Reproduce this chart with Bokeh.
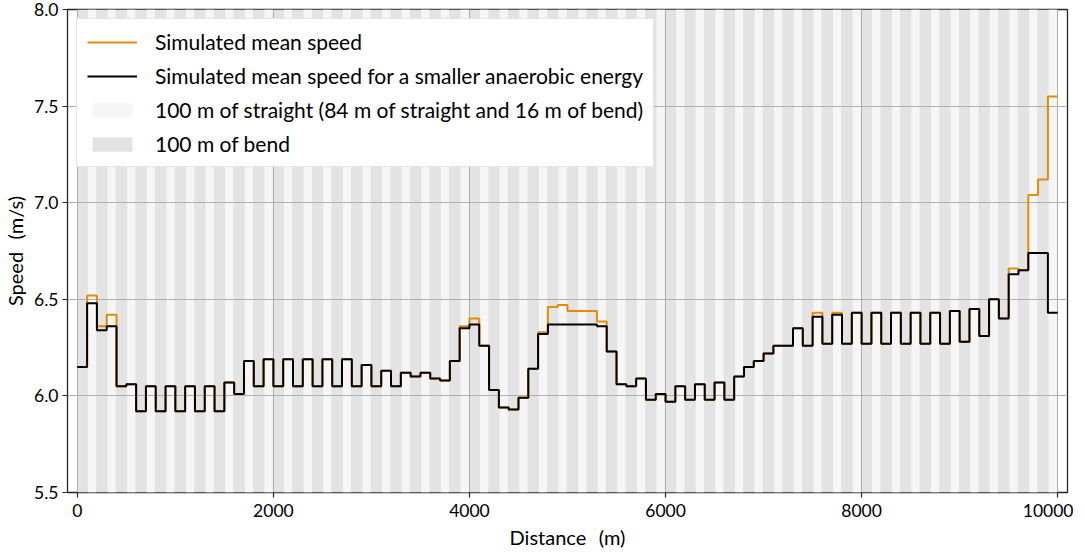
from bokeh.plotting import figure
from bokeh.models import FixedTicker, NumeralTickFormatter, Range1d, Legend, LegendItem
from bokeh.embed import file_html
from bokeh.resources import INLINE

# ---------------- data ----------------
segment_length = 100  # m
# mean speed per 100 m segment (m/s)
speed_small_anaerobic = [
    6.15, 6.48, 6.34, 6.36, 6.05, 6.06, 5.92, 6.05, 5.92, 6.05,
    5.92, 6.05, 5.92, 6.05, 5.92, 6.07, 6.01, 6.18, 6.05, 6.19,
    6.05, 6.19, 6.05, 6.19, 6.05, 6.19, 6.05, 6.19, 6.05, 6.16,
    6.05, 6.13, 6.05, 6.12, 6.10, 6.12, 6.09, 6.08, 6.18, 6.35,
    6.37, 6.26, 6.03, 5.94, 5.93, 5.99, 6.14, 6.32, 6.37, 6.37,
    6.37, 6.37, 6.37, 6.36, 6.23, 6.06, 6.05, 6.09, 5.98, 6.01,
    5.97, 6.05, 5.98, 6.06, 5.98, 6.07, 5.98, 6.10, 6.15, 6.18,
    6.22, 6.26, 6.26, 6.35, 6.26, 6.41, 6.27, 6.42, 6.27, 6.43,
    6.27, 6.43, 6.27, 6.43, 6.27, 6.43, 6.27, 6.43, 6.27, 6.44,
    6.28, 6.45, 6.31, 6.50, 6.40, 6.63, 6.65, 6.74, 6.74, 6.43,
]
speed_mean = [
    6.15, 6.52, 6.36, 6.42, 6.05, 6.06, 5.92, 6.05, 5.92, 6.05,
    5.92, 6.05, 5.92, 6.05, 5.92, 6.07, 6.01, 6.18, 6.05, 6.19,
    6.05, 6.19, 6.05, 6.19, 6.05, 6.19, 6.05, 6.19, 6.05, 6.16,
    6.05, 6.13, 6.05, 6.12, 6.10, 6.12, 6.09, 6.08, 6.18, 6.36,
    6.40, 6.26, 6.03, 5.94, 5.93, 5.99, 6.14, 6.33, 6.46, 6.47,
    6.44, 6.44, 6.44, 6.385, 6.23, 6.06, 6.05, 6.09, 5.98, 6.01,
    5.97, 6.05, 5.98, 6.06, 5.98, 6.07, 5.98, 6.10, 6.15, 6.18,
    6.22, 6.26, 6.26, 6.35, 6.26, 6.43, 6.27, 6.43, 6.27, 6.43,
    6.27, 6.43, 6.27, 6.43, 6.27, 6.43, 6.27, 6.43, 6.27, 6.44,
    6.28, 6.45, 6.31, 6.50, 6.40, 6.66, 6.65, 7.04, 7.12, 7.55,
]
race_length = 10000
straight_part = 84       # m of true straight inside each "straight" 100 m
straight_offset = 108    # first straight portion starts here
lap_half = 200

x_ticks = [0, 2000, 4000, 6000, 8000, 10000]
y_ticks = [5.5, 6.0, 6.5, 7.0, 7.5, 8.0]
x_lim = (-100, 10100)
y_lim = (5.5, 8.0)

labels = [
    "Simulated mean speed",
    "Simulated mean speed for a smaller anaerobic energy",
    "100 m of straight (84 m of straight and 16 m of bend)",
    "100 m of bend",
]

# ---------------- derived ----------------
n = len(speed_mean)
edges = [i * segment_length for i in range(n + 1)]
y_mean = speed_mean + [speed_mean[-1]]
y_small = speed_small_anaerobic + [speed_small_anaerobic[-1]]
straight_left = list(range(straight_offset, race_length, lap_half))
straight_right = [s + straight_part for s in straight_left]

FONT = "Lato"
ORANGE = "#e48c06"

p = figure(
    frame_width=1000, frame_height=483,
    min_border_left=62, min_border_right=6, min_border_top=9, min_border_bottom=50,
    x_range=Range1d(*x_lim), y_range=Range1d(*y_lim),
    output_backend="svg", toolbar_location=None,
)
p.background_fill_color = "white"
p.border_fill_color = "white"
p.outline_line_color = "#262626"
p.outline_line_width = 1.3

bend = p.quad(left=[0], right=[race_length], bottom=[y_lim[0]], top=[y_lim[1]],
              fill_color="#e3e3e3", line_color=None, level="image")
straight = p.quad(left=straight_left, right=straight_right,
                  bottom=[y_lim[0]] * len(straight_left), top=[y_lim[1]] * len(straight_left),
                  fill_color="#f6f6f6", line_color=None, level="image")

r_mean = p.step(edges, y_mean, mode="after", line_color=ORANGE, line_width=2)
r_small = p.step(edges, y_small, mode="after", line_color="black", line_width=2)

for g in (p.xgrid, p.ygrid):
    g.grid_line_color = "#b0b0b0"
    g.grid_line_width = 1
p.xgrid.ticker = FixedTicker(ticks=x_ticks)
p.ygrid.ticker = FixedTicker(ticks=y_ticks)

p.xaxis.ticker = FixedTicker(ticks=x_ticks)
p.yaxis.ticker = FixedTicker(ticks=y_ticks)
p.yaxis.formatter = NumeralTickFormatter(format="0.0")
for ax in (p.xaxis, p.yaxis):
    ax.axis_line_color = None
    ax.major_tick_line_color = "#262626"
    ax.major_tick_line_width = 1.2
    ax.major_tick_out = 5
    ax.major_tick_in = 0
    ax.minor_tick_line_color = None
    ax.major_label_text_font = FONT
    ax.major_label_text_font_size = "17.5px"
    ax.major_label_text_color = "black"
    ax.axis_label_text_font = FONT
    ax.axis_label_text_font_size = "20px"
    ax.axis_label_text_font_style = "normal"
    ax.axis_label_text_color = "black"
p.xaxis.axis_label = "Distance\u2002\u2009(m)"
p.yaxis.axis_label = "Speed\u2002\u2009(m/s)"
p.xaxis.major_label_standoff = 6
p.yaxis.major_label_standoff = 4
p.xaxis.axis_label_standoff = 5
p.yaxis.axis_label_standoff = 4

legend = Legend(items=[
    LegendItem(label=labels[0], renderers=[r_mean]),
    LegendItem(label=labels[1], renderers=[r_small]),
    LegendItem(label=labels[2], renderers=[straight]),
    LegendItem(label=labels[3], renderers=[bend]),
], location="top_left")
legend.margin = 9
legend.padding = 10
legend.spacing = 9
legend.glyph_width = 50
legend.glyph_height = 18
legend.label_height = 24
legend.label_standoff = 18
legend.label_text_font = FONT
legend.label_text_font_size = "21px"
legend.label_text_color = "black"
legend.border_line_color = "#cccccc"
legend.border_line_width = 1
legend.background_fill_color = "white"
legend.background_fill_alpha = 1.0
p.add_layout(legend)

open("out.html", "w").write(file_html(p, INLINE))
